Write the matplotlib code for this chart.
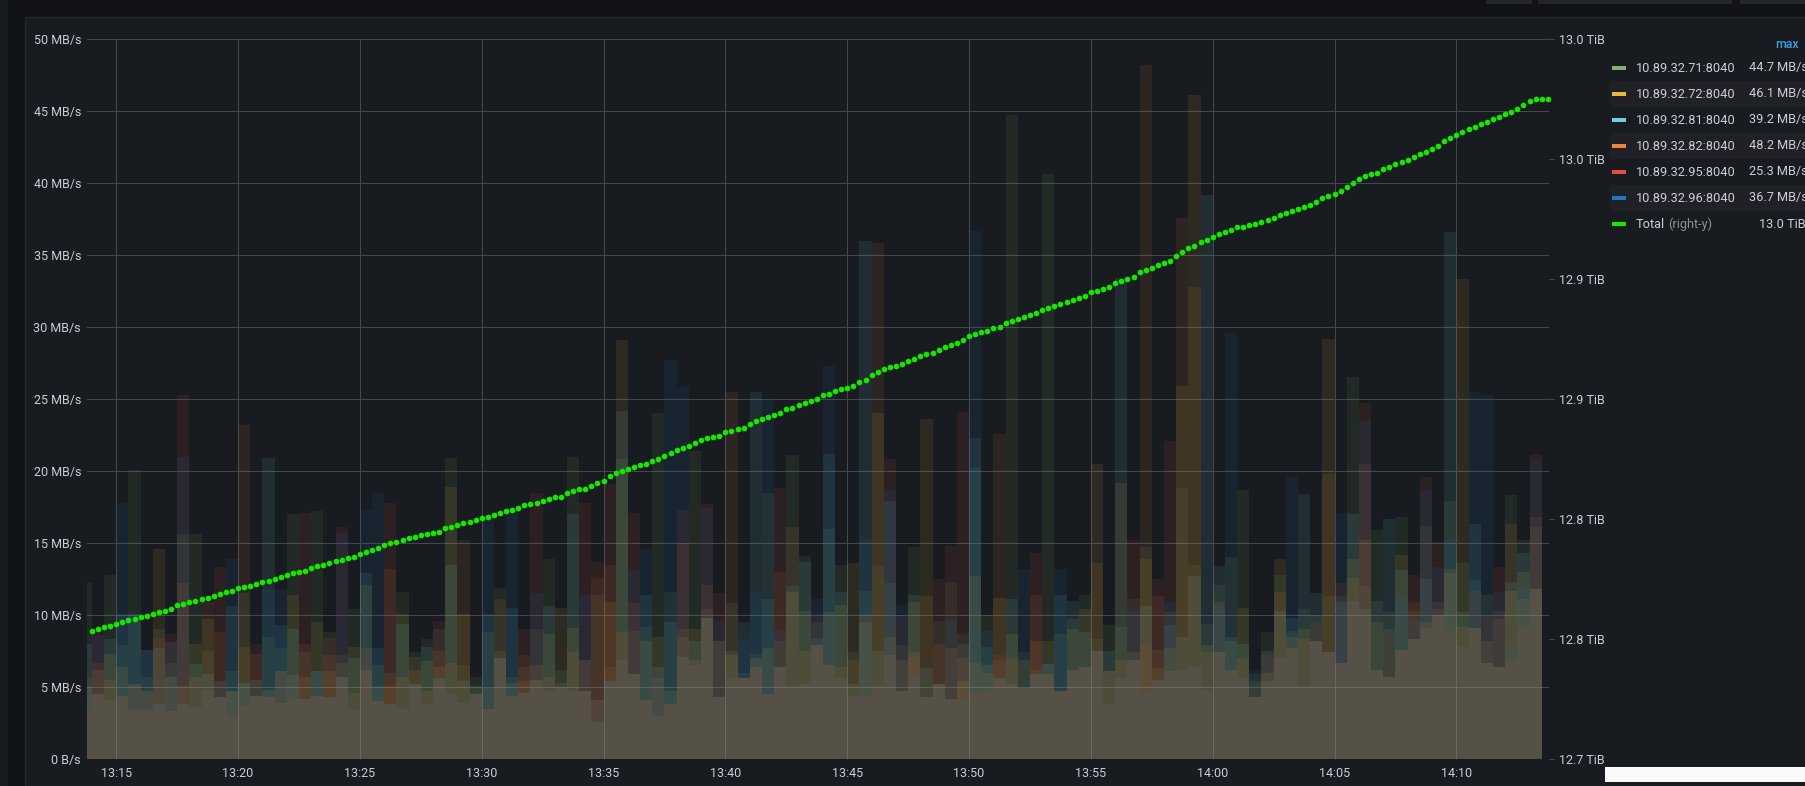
import matplotlib
matplotlib.use("Agg")
import matplotlib.pyplot as plt
import matplotlib.dates as mdates
from matplotlib.patches import Rectangle
import numpy as np
from datetime import datetime, timedelta

plt.rcParams['font.family'] = ['Roboto', 'DejaVu Sans']

# legend entries and classic grafana colours
hosts = ["10.89.32.71:8040", "10.89.32.72:8040", "10.89.32.81:8040",
         "10.89.32.82:8040", "10.89.32.95:8040", "10.89.32.96:8040"]
colors = ["#7eb26d", "#eab839", "#6ed0e0", "#ef843c", "#e24d42", "#1f78c1"]

# MB/s per 30 s bucket, first bucket centred at 13:13:45
green = [12.2, 4.5, 12.8, 7.9, 20.1, 5.7, 9.0, 6.7, 15.6, 15.6,
         7.5, 5.4, 6.1, 11.5, 5.5, 8.5, 7.7, 17.0, 7.4, 17.2,
         8.8, 7.2, 10.4, 6.2, 6.5, 6.0, 11.6, 7.4, 8.3, 9.0,
         20.9, 6.5, 5.7, 8.8, 11.9, 5.7, 6.4, 9.0, 13.9, 6.2,
         21.0, 6.9, 11.4, 6.4, 20.8, 8.9, 9.2, 24.0, 11.6, 9.0,
         21.4, 10.4, 8.2, 10.8, 6.0, 7.3, 18.5, 8.2, 21.1, 14.1,
         9.5, 16.0, 13.5, 7.4, 11.7, 13.4, 12.2, 7.9, 14.7, 6.3,
         9.6, 12.3, 8.7, 20.2, 10.0, 6.9, 44.7, 7.4, 6.2, 40.6,
         8.7, 9.7, 11.4, 8.3, 9.3, 9.2, 11.1, 14.7, 7.6, 10.2,
         18.8, 13.5, 9.4, 12.1, 14.0, 18.7, 5.9, 8.8, 12.8, 8.9,
         10.4, 10.0, 11.3, 11.3, 26.5, 12.0, 15.9, 10.2, 16.8, 10.3,
         16.2, 10.9, 17.9, 13.6, 12.4, 11.4, 10.3, 18.3, 15.2, 16.1]
yellow = [5.0, 6.2, 7.3, 6.4, 5.2, 4.7, 14.6, 5.7, 5.1, 8.0,
          9.7, 4.3, 4.7, 7.8, 4.4, 4.8, 6.1, 11.4, 5.7, 9.5,
          6.1, 6.7, 7.8, 12.1, 5.1, 5.1, 10.1, 6.2, 6.8, 6.4,
          18.9, 10.1, 5.1, 4.9, 7.5, 5.3, 5.4, 6.5, 8.7, 10.5,
          9.1, 4.7, 4.1, 10.9, 29.1, 5.9, 8.2, 8.5, 4.7, 8.5,
          9.0, 9.8, 4.3, 7.2, 5.6, 7.0, 7.7, 6.4, 11.6, 10.3,
          7.9, 10.2, 10.7, 13.6, 9.5, 24.0, 8.5, 6.9, 10.9, 23.6,
          5.2, 7.7, 5.4, 12.7, 6.5, 11.2, 8.7, 6.9, 8.2, 8.2,
          4.7, 9.0, 10.4, 20.5, 6.1, 19.2, 7.4, 13.9, 6.3, 7.7,
          25.9, 46.1, 7.9, 7.4, 8.2, 10.5, 5.4, 6.0, 13.9, 8.5,
          9.0, 8.2, 29.2, 6.7, 13.9, 15.2, 9.5, 5.7, 14.2, 8.3,
          9.5, 10.0, 13.2, 33.3, 9.1, 8.2, 6.4, 11.7, 13.0, 11.8]
cyan = [8.0, 4.5, 8.3, 10.1, 10.1, 7.6, 7.7, 8.1, 3.8, 6.6,
        5.9, 4.3, 10.6, 5.3, 4.4, 20.9, 9.3, 9.0, 4.2, 6.1,
        4.3, 5.7, 7.0, 12.9, 7.7, 3.8, 9.4, 5.2, 7.8, 5.6,
        13.5, 5.4, 4.5, 10.1, 7.0, 10.5, 4.6, 5.5, 10.6, 5.3,
        17.0, 4.7, 2.6, 5.4, 24.2, 5.9, 11.4, 6.4, 9.5, 7.1,
        8.2, 9.8, 4.3, 7.5, 9.5, 25.5, 11.1, 6.4, 12.0, 13.7,
        8.4, 21.2, 11.6, 5.2, 36.0, 7.5, 17.9, 4.7, 11.4, 4.3,
        5.2, 4.2, 8.0, 22.3, 7.8, 5.6, 11.1, 4.9, 5.9, 6.6,
        11.4, 11.0, 8.8, 7.5, 7.5, 33.4, 6.9, 10.6, 5.5, 9.3,
        8.5, 12.7, 39.2, 13.4, 8.5, 8.0, 4.3, 7.5, 10.3, 9.8,
        18.4, 11.5, 7.4, 10.9, 17.0, 10.4, 11.0, 16.7, 13.1, 8.3,
        12.5, 10.0, 36.6, 10.2, 16.3, 6.7, 6.4, 12.3, 14.3, 11.8]
orange = [5.7, 6.7, 5.5, 4.4, 3.4, 3.4, 3.8, 3.3, 12.2, 5.7,
          10.9, 8.8, 4.7, 23.2, 7.3, 4.3, 3.9, 5.8, 8.0, 4.4,
          7.2, 5.7, 4.6, 7.7, 4.0, 13.2, 5.7, 7.1, 4.7, 7.5,
          6.7, 15.2, 4.5, 3.5, 11.1, 4.4, 7.2, 5.5, 5.7, 5.0,
          7.4, 6.9, 12.6, 13.5, 8.8, 10.8, 4.1, 3.0, 3.8, 15.0,
          6.9, 12.1, 8.2, 25.5, 5.6, 6.4, 4.5, 13.0, 16.1, 7.5,
          7.9, 6.5, 6.4, 6.9, 10.1, 35.8, 7.2, 4.7, 7.4, 11.3,
          8.0, 4.2, 7.0, 6.7, 6.0, 22.6, 7.0, 4.9, 11.4, 5.9,
          4.7, 6.2, 6.4, 13.6, 6.1, 6.9, 6.9, 48.2, 11.3, 6.1,
          37.6, 32.8, 7.4, 10.9, 6.2, 7.0, 4.3, 5.4, 11.6, 7.7,
          8.3, 8.2, 19.8, 6.7, 12.6, 20.5, 6.2, 9.0, 7.6, 10.9,
          9.1, 10.4, 12.9, 9.2, 9.1, 6.7, 9.7, 16.3, 11.1, 16.8]
red = [3.4, 8.8, 4.1, 4.4, 5.2, 4.7, 8.4, 8.7, 25.3, 3.6,
       4.8, 13.3, 3.0, 3.7, 8.0, 4.3, 6.1, 4.2, 17.1, 4.4,
       8.4, 16.1, 3.4, 6.2, 4.0, 17.8, 3.5, 5.2, 3.8, 9.6,
       4.5, 3.9, 4.5, 3.5, 7.0, 4.4, 9.0, 18.5, 4.7, 5.0,
       4.7, 17.8, 13.7, 19.1, 6.9, 17.1, 4.1, 5.6, 3.8, 17.3,
       6.5, 17.7, 11.5, 5.6, 5.6, 6.4, 4.5, 18.8, 5.1, 5.2,
       10.1, 6.5, 5.6, 4.4, 4.4, 5.1, 20.8, 10.0, 7.1, 4.3,
       12.5, 14.8, 24.1, 4.6, 4.7, 7.2, 5.2, 4.9, 14.3, 5.9,
       4.7, 6.2, 6.4, 7.5, 3.8, 5.6, 15.2, 7.9, 12.5, 22.1,
       6.2, 6.4, 4.7, 7.4, 6.2, 5.6, 4.3, 7.2, 7.0, 7.7,
       5.1, 9.5, 7.4, 12.2, 11.0, 24.7, 6.2, 5.7, 7.6, 12.8,
       19.6, 15.1, 8.9, 7.8, 11.7, 10.0, 13.3, 6.8, 9.2, 21.2]
blue = [5.0, 8.6, 4.1, 17.8, 10.1, 7.6, 3.8, 5.7, 21.0, 3.6,
        4.8, 5.4, 13.9, 5.3, 5.5, 11.8, 11.8, 5.8, 4.2, 6.1,
        4.3, 15.7, 3.4, 17.3, 18.5, 3.8, 3.5, 5.2, 3.8, 5.6,
        4.5, 3.9, 5.1, 16.8, 7.0, 17.6, 4.6, 11.5, 4.7, 5.0,
        4.7, 11.4, 4.1, 5.4, 6.9, 13.1, 14.6, 5.6, 27.7, 25.8,
        6.5, 17.4, 9.6, 5.6, 8.3, 11.6, 25.0, 9.0, 5.1, 5.2,
        11.1, 27.3, 5.6, 4.4, 15.2, 5.1, 18.7, 10.7, 5.7, 6.3,
        5.2, 9.7, 4.1, 36.7, 8.9, 5.6, 5.2, 13.2, 5.9, 6.6,
        13.2, 6.2, 6.4, 7.5, 3.8, 5.6, 10.3, 4.6, 5.5, 10.9,
        6.2, 6.4, 4.7, 10.6, 29.6, 5.6, 6.2, 5.4, 7.0, 19.6,
        5.1, 8.2, 7.4, 17.1, 11.0, 23.5, 6.2, 5.7, 11.2, 9.7,
        18.7, 13.3, 15.3, 7.8, 25.5, 25.3, 11.6, 7.8, 11.9, 20.8]
series = [green, yellow, cyan, orange, red, blue]

# total written, GiB, one point every 15 s from 13:14:00
total_gib = [13059.6, 13060.2, 13061.0, 13061.6, 13062.6, 13063.2, 13064.2, 13064.6, 13065.4, 13066.0,
             13066.8, 13067.4, 13068.0, 13069.0, 13070.4, 13070.8, 13071.8, 13072.2, 13073.0, 13073.6,
             13074.4, 13075.2, 13076.0, 13076.6, 13077.8, 13078.2, 13078.8, 13079.4, 13080.4, 13080.8,
             13081.8, 13082.4, 13083.4, 13084.0, 13084.6, 13085.2, 13086.4, 13087.0, 13087.6, 13088.6,
             13089.4, 13089.8, 13090.4, 13091.2, 13092.4, 13093.2, 13094.0, 13094.8,
             13096.2, 13096.8, 13097.6, 13098.2, 13099.0, 13099.6, 13100.2, 13100.8, 13101.4, 13101.8,
             13103.4, 13103.8, 13104.8, 13105.4, 13105.8, 13106.6, 13107.6, 13108.2, 13109.0, 13109.6,
             13110.6, 13111.2, 13111.8, 13113.0, 13113.6, 13114.0, 13115.0, 13115.8, 13116.4, 13116.8,
             13118.2, 13119.0, 13119.8, 13120.2, 13121.4, 13122.4, 13123.6, 13125.6, 13126.8, 13127.8,
             13128.6, 13129.4, 13130.2, 13130.8, 13132.0, 13132.6, 13134.0,
             13135.4, 13136.6, 13137.4, 13138.4, 13139.6, 13140.8, 13141.6, 13142.2, 13142.8, 13144.2,
             13144.8, 13145.6, 13146.2, 13147.6, 13149.0, 13149.8, 13150.8, 13151.6, 13152.4, 13154.0,
             13154.6, 13155.8, 13156.8, 13157.6, 13158.4, 13160.2, 13160.6, 13161.8, 13162.6, 13163.2,
             13164.0, 13165.6, 13166.4, 13168.6, 13169.8, 13171.2, 13172.0, 13172.6, 13173.4, 13174.6,
             13175.4, 13176.8, 13177.4, 13178.2, 13179.2, 13180.4, 13181.4, 13182.4,
             13183.6, 13185.2, 13186.0, 13186.8, 13187.4, 13188.6, 13189.2, 13190.8, 13191.6, 13192.4,
             13193.2, 13194.2, 13195.0, 13196.4, 13197.2, 13198.2, 13199.0, 13199.8, 13200.6, 13201.4,
             13202.4, 13204.0, 13204.6, 13205.4, 13206.0, 13207.8, 13208.8, 13209.6, 13210.6, 13212.6,
             13213.4, 13214.4, 13215.4, 13216.4, 13217.2, 13219.4, 13221.2, 13223.0, 13223.8, 13225.4,
             13226.4, 13227.4, 13228.8, 13229.8, 13230.6, 13231.6, 13232.0, 13232.6,
             13233.2, 13234.0, 13234.6, 13235.8, 13237.0, 13237.8, 13238.6, 13239.6, 13240.4, 13241.2,
             13242.6, 13244.0, 13245.0, 13245.8, 13247.2, 13249.0, 13250.6, 13252.4, 13253.4, 13254.2,
             13255.0, 13256.4, 13257.2, 13258.6, 13259.6, 13260.4, 13261.6, 13263.0, 13264.0, 13265.0,
             13266.2, 13268.4, 13269.8, 13271.0, 13272.2, 13273.6, 13274.4, 13275.8, 13276.8, 13277.8,
             13278.6, 13280.0, 13281.0, 13282.2, 13283.8, 13285.4, 13286.4, 13286.4, 13286.4]

left_ticks = [0, 5, 10, 15, 20, 25, 30, 35, 40, 45, 50]
right_ticks = [12.70, 12.75, 12.80, 12.85, 12.90, 12.95, 13.00]
right_tick_labels = ["12.7 TiB", "12.8 TiB", "12.8 TiB", "12.9 TiB",
                     "12.9 TiB", "13.0 TiB", "13.0 TiB"]

W, H = 1806, 786
fig = plt.figure(figsize=(W / 100, H / 100), dpi=100, facecolor="#111217")


def fx(x):
    return x / W


def fy(y):
    return 1 - y / H


def box(x, y, w, h, color, z=-5, **kw):
    # rectangle in pixel coords (y from the top)
    fig.patches.append(Rectangle((fx(x), fy(y + h)), fx(w), h / H, transform=fig.transFigure,
                                 facecolor=color, zorder=z, **kw))


# panel background + some bits of the surrounding dashboard
box(0, 0, 8, H, "#181b1f", edgecolor="none")
box(25, 17, W - 25, H - 17, "#181b1f", edgecolor="#24272c", lw=1)
for x0, x1 in [(1486, 1532), (1538, 1732), (1740, 1806)]:
    box(x0, 0, x1 - x0, 4, "#22252b", edgecolor="none")

ax = fig.add_axes([fx(87), 27 / H, fx(1462), 720 / H])
ax.set_facecolor("none")

t0 = datetime(2024, 1, 1, 13, 13, 45)
bar_t = [t0 + timedelta(seconds=30 * k) for k in range(len(green))]
d0 = datetime(2024, 1, 1, 13, 14, 0)
dot_t = [d0 + timedelta(seconds=15 * i) for i in range(len(total_gib))]

for vals, c in zip(series, colors):
    ax.bar(bar_t, vals, width=30 / 86400, color=c, alpha=0.1, linewidth=0, align="center")

ax.set_xlim(datetime(2024, 1, 1, 13, 13, 48), datetime(2024, 1, 1, 14, 13, 48))
ax.set_ylim(0, 50)
ax.set_yticks(left_ticks)
ax.set_yticklabels(["0 B/s" if v == 0 else "%d MB/s" % v for v in left_ticks])
ax.xaxis.set_major_locator(mdates.MinuteLocator(byminute=range(0, 60, 5)))
ax.xaxis.set_major_formatter(mdates.DateFormatter("%H:%M"))
ax.grid(True, color="#45474c", lw=0.75)
ax.set_axisbelow(True)
ax.tick_params(axis="y", length=0, pad=4.3, labelcolor="#ccccdc", labelsize=9)
ax.tick_params(axis="x", length=0, pad=5.5, labelcolor="#ccccdc", labelsize=9)
for s in ax.spines.values():
    s.set_visible(False)

# total on the right axis
ax2 = ax.twinx()
ax2.set_ylim(12.7, 13.0)
ax2.set_yticks(right_ticks)
ax2.set_yticklabels(right_tick_labels)
ax2.tick_params(axis="y", length=3.5, width=0.75, color="#45474c", pad=3.5,
                labelcolor="#ccccdc", labelsize=9)
for s in ax2.spines.values():
    s.set_visible(False)
ax2.plot(dot_t, np.array(total_gib) / 1024, "o", ms=4.1, color="#16e600", mec="none", clip_on=False)

# legend as a table on the right
fig.text(fx(1787), fy(45), "max", color="#3a9ce0", fontsize=9, ha="center", va="center", weight="medium")
row_y = [68, 94, 120, 146, 172, 198, 224]
for j, y in enumerate(row_y):
    if j % 2 == 1:
        box(1610, y - 13, W - 1610, 26, "#1f2126", edgecolor="none")
for j in range(len(hosts)):
    y = row_y[j]
    box(1612, y - 2, 14, 4, colors[j], z=1, edgecolor="none")
    fig.text(fx(1636), fy(y), hosts[j], color="#ccccdc", fontsize=9.2, va="center")
    fig.text(fx(1808), fy(y), "%.1f MB/s" % max(series[j]), color="#ccccdc", fontsize=9.2,
             va="center", ha="right")
y = row_y[-1]
box(1612, y - 2, 14, 4, "#16e600", z=1, edgecolor="none")
fig.text(fx(1636), fy(y), "Total", color="#ccccdc", fontsize=9.2, va="center")
fig.text(fx(1668), fy(y), "(right-y)", color="#8e8e99", fontsize=9.2, va="center")
fig.text(fx(1806), fy(y), "%.1f TiB" % (max(total_gib) / 1024), color="#ccccdc", fontsize=9.2,
         va="center", ha="right")

# white box at the bottom right corner
box(1605, 767, W - 1605, 15, "#fafafa", z=1, edgecolor="none")

plt.savefig("out.png", dpi=100, facecolor=fig.get_facecolor())
